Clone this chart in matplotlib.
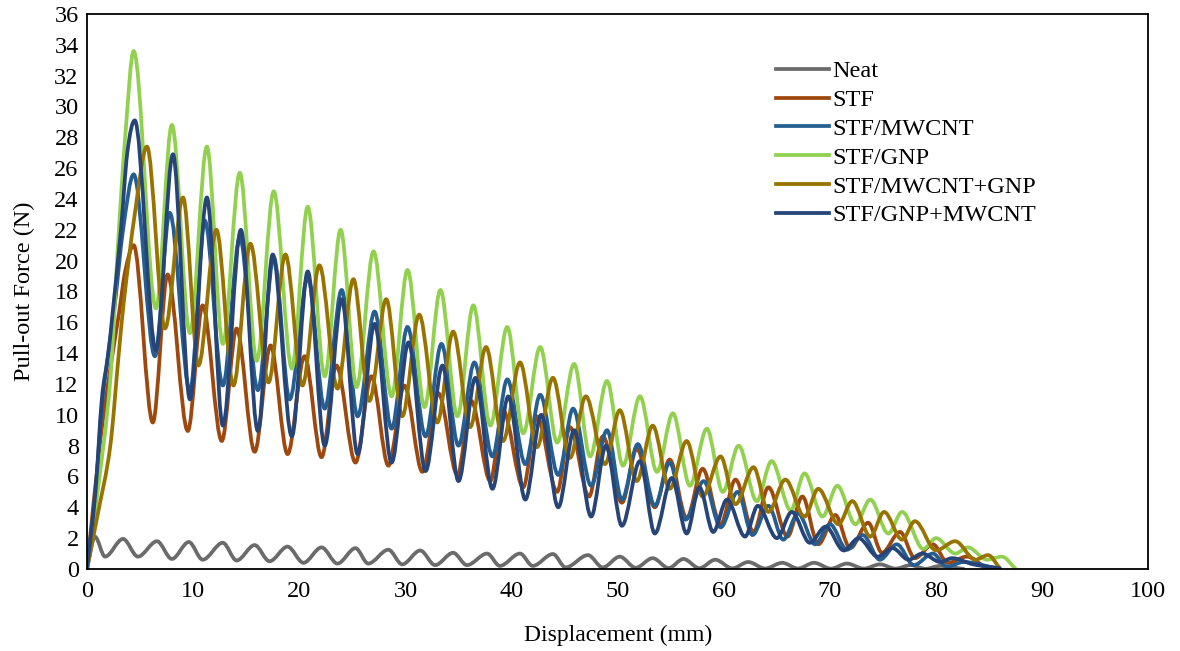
import numpy as np
import matplotlib
matplotlib.use("Agg")
import matplotlib.pyplot as plt
from matplotlib.path import Path
from matplotlib.patches import PathPatch

plt.rcParams['font.family'] = ['Liberation Serif', 'DejaVu Serif']

neat = [(0, 0), (0.75, 2.1), (1.7, 0.8), (3.4, 1.95), (4.8, 0.8), (6.6, 1.8), (8.0, 0.65),
        (9.6, 1.75), (10.9, 0.6), (12.8, 1.7), (14.1, 0.55), (15.8, 1.55), (17.2, 0.5),
        (18.9, 1.45), (20.4, 0.4), (22.1, 1.4), (23.6, 0.35), (25.3, 1.35), (26.5, 0.35),
        (28.4, 1.25), (29.7, 0.3), (31.4, 1.2), (32.8, 0.25), (34.5, 1.05), (35.8, 0.25),
        (37.7, 1.0), (38.9, 0.2), (40.8, 1.0), (42.0, 0.2), (43.9, 0.97), (45.1, 0.1),
        (47.2, 0.9), (48.6, 0.1), (50.2, 0.8), (51.7, 0.08), (53.3, 0.7), (54.8, 0.06),
        (56.2, 0.65), (57.7, 0.05), (59.2, 0.6), (60.8, 0.04), (62.3, 0.45), (63.9, 0.03),
        (65.5, 0.4), (67.0, 0.03), (68.5, 0.4), (70.1, 0.02), (71.6, 0.35), (73.2, 0.02),
        (74.7, 0.3), (76.2, 0.02), (77.6, 0.25), (79.0, 0.01), (80.4, 0.2), (82.6, 0.0)]

stf = [(0, 0), (1.2, 8), (2.2, 13), (3.0, 16.5), (3.6, 19.3), (4.4, 21.0), (6.2, 9.5),
       (7.6, 19.1), (9.5, 8.95), (10.9, 17.1), (12.7, 8.3), (14.1, 15.6), (15.8, 7.6),
       (17.3, 14.5), (18.9, 7.45), (20.5, 13.8), (22.1, 7.25), (23.5, 13.2), (25.3, 6.9),
       (26.8, 12.5), (28.4, 6.7), (29.9, 11.9), (31.6, 6.3), (33.1, 11.4), (34.9, 6.1),
       (36.2, 10.9), (38.0, 5.7), (39.2, 10.3), (41.1, 5.3), (42.4, 9.9), (44.3, 5.0),
       (45.5, 9.2), (47.3, 4.7), (48.6, 8.6), (50.4, 4.3), (51.8, 7.8), (53.5, 4.0),
       (54.9, 7.1), (56.5, 3.3), (58.0, 6.5), (59.7, 2.9), (61.1, 5.8), (62.8, 2.4),
       (64.2, 5.3), (66.0, 2.1), (67.4, 4.7), (68.9, 1.6), (70.5, 3.5), (71.9, 1.35),
       (73.6, 3.0), (74.9, 1.05), (76.6, 2.4), (78.0, 0.7), (79.7, 1.6), (81.1, 0.4),
       (82.9, 0.8), (84.8, 0.0)]

stf_mwcnt = [(0, 0), (0.8, 5), (1.4, 10.5), (2.0, 14), (2.6, 17), (3.4, 22), (4.4, 25.6),
             (6.4, 13.8), (7.8, 23.1), (9.7, 11.5), (11.1, 22.6), (12.8, 11.9), (14.4, 21.5),
             (16.1, 11.6), (17.6, 20.2), (19.1, 11.0), (20.8, 18.9), (22.4, 10.4), (24.0, 18.1),
             (25.5, 9.9), (27.1, 16.7), (28.7, 9.1), (30.2, 15.7), (31.9, 8.6), (33.4, 14.6),
             (35.0, 8.0), (36.5, 13.4), (38.2, 7.3), (39.6, 12.3), (41.3, 6.8), (42.7, 11.3),
             (44.4, 6.1), (45.8, 10.4), (47.5, 5.4), (49.0, 9.0), (50.4, 4.5), (51.9, 8.1),
             (53.5, 4.1), (54.9, 6.9), (56.4, 3.2), (58.1, 5.7), (59.7, 2.7), (61.3, 5.0),
             (62.7, 2.2), (64.2, 4.1), (65.6, 1.9), (67.0, 3.6), (68.6, 1.6), (70.0, 2.9),
             (71.6, 1.25), (73.1, 2.2), (74.7, 0.6), (76.3, 1.6), (77.9, 0.25), (79.7, 1.0),
             (81.0, 0.15), (82.6, 0.45), (85.9, 0.0)]

stf_gnp = [(0, 0), (1.0, 5), (2.2, 12.3), (2.9, 20.8), (3.6, 28), (4.4, 33.6), (6.5, 16.9),
           (8.0, 28.8), (9.7, 15.3), (11.3, 27.4), (12.8, 14.6), (14.4, 25.7), (16.0, 13.5),
           (17.6, 24.5), (19.3, 13.0), (20.8, 23.5), (22.4, 12.5), (23.9, 22.0), (25.4, 11.8),
           (27.0, 20.6), (28.7, 11.2), (30.2, 19.4), (31.8, 10.5), (33.3, 18.1), (34.9, 9.9),
           (36.4, 17.1), (38.0, 9.3), (39.6, 15.7), (41.1, 8.8), (42.7, 14.4), (44.3, 8.2),
           (45.9, 13.3), (47.4, 7.3), (49.0, 12.2), (50.5, 6.7), (52.1, 11.2), (53.7, 6.3),
           (55.2, 10.1), (56.8, 5.4), (58.4, 9.1), (59.9, 5.0), (61.4, 8.0), (63.1, 4.4),
           (64.5, 7.0), (66.3, 3.8), (67.6, 6.2), (69.3, 3.4), (70.7, 5.4), (72.4, 2.9),
           (73.8, 4.5), (75.5, 2.3), (76.8, 3.7), (78.8, 1.3), (80.0, 2.0), (81.8, 1.0),
           (83.0, 1.4), (84.8, 0.6), (86.2, 0.8), (87.5, 0.0)]

stf_mwcnt_gnp = [(0, 0), (1.0, 3.5), (2.2, 8), (3.0, 14), (3.5, 17.5), (4.5, 23), (5.65, 27.4),
                 (7.35, 15.6), (9.05, 24.1), (10.5, 13.2), (12.2, 22.0), (13.8, 11.9),
                 (15.4, 21.1), (17.1, 12.1), (18.7, 20.4), (20.3, 11.9), (21.9, 19.7),
                 (23.6, 11.7), (25.1, 18.8), (26.6, 10.9), (28.2, 17.5), (29.7, 9.9),
                 (31.3, 16.5), (33.0, 9.5), (34.5, 15.4), (36.1, 9.2), (37.6, 14.4),
                 (39.2, 8.3), (40.8, 13.4), (42.4, 7.9), (43.9, 12.4), (45.5, 7.2),
                 (47.0, 11.2), (48.8, 6.8), (50.2, 10.3), (51.8, 5.7), (53.3, 9.3),
                 (54.9, 5.2), (56.5, 8.3), (58.0, 4.7), (59.7, 7.3), (61.1, 4.2), (62.8, 6.6),
                 (64.2, 3.7), (65.8, 5.8), (67.6, 3.4), (68.9, 5.2), (70.8, 2.9), (72.1, 4.4),
                 (73.8, 2.1), (75.1, 3.7), (76.8, 1.9), (78.0, 3.1), (80.0, 1.2), (81.8, 1.8),
                 (83.7, 0.6), (84.9, 0.9), (86.0, 0.05)]

stf_gnp_mwcnt = [(0, 0), (0.8, 5), (1.4, 11), (2.0, 13.9), (2.4, 16.5), (3.2, 22), (3.8, 27),
                 (4.5, 29.1), (6.5, 14.2), (8.1, 26.9), (9.7, 11.0), (11.3, 24.1), (12.8, 9.3),
                 (14.5, 22.0), (16.1, 8.95), (17.5, 20.4), (19.3, 8.6), (20.8, 19.3),
                 (22.4, 8.0), (24.0, 17.5), (25.5, 7.45), (27.1, 15.9), (28.7, 6.9),
                 (30.3, 14.7), (31.9, 6.35), (33.5, 13.2), (35.0, 5.7), (36.6, 12.4),
                 (38.2, 5.2), (39.7, 11.2), (41.3, 4.5), (42.8, 10.0), (44.4, 4.0), (45.9, 9.0),
                 (47.5, 3.4), (48.9, 8.0), (50.4, 2.8), (52.1, 7.0), (53.5, 2.3), (55.1, 5.9),
                 (56.5, 2.3), (57.7, 5.3), (59.0, 2.4), (60.3, 4.5), (62.0, 2.1), (63.2, 4.1),
                 (65.0, 2.0), (66.4, 3.7), (68.1, 1.7), (69.6, 2.75), (71.3, 1.2), (72.7, 2.0),
                 (74.5, 0.8), (75.9, 1.35), (77.4, 0.6), (78.7, 1.0), (80.4, 0.45), (81.5, 0.7),
                 (83.5, 0.3), (86.0, 0.05)]

labels = ["Neat", "STF", "STF/MWCNT", "STF/GNP", "STF/MWCNT+GNP", "STF/GNP+MWCNT"]
series = [neat, stf, stf_mwcnt, stf_gnp, stf_mwcnt_gnp, stf_gnp_mwcnt]
colors = ["#6b6b6b", "#9e480e", "#255e91", "#92d050", "#997300", "#264478"]


def smooth_path(pts):
    # excel-style smoothed line: cubic bezier through the points,
    # flat tangent at every peak / valley
    x = np.array([p[0] for p in pts], float)
    y = np.array([p[1] for p in pts], float)
    n = len(x)
    m = np.zeros(n)
    for i in range(n):
        if i == 0:
            m[i] = (y[1] - y[0]) / (x[1] - x[0])
        elif i == n - 1:
            m[i] = (y[-1] - y[-2]) / (x[-1] - x[-2])
        elif (y[i] - y[i - 1]) * (y[i + 1] - y[i]) <= 0:
            m[i] = 0
        else:
            m[i] = (y[i + 1] - y[i - 1]) / (x[i + 1] - x[i - 1])
    verts = [(x[0], y[0])]
    codes = [Path.MOVETO]
    for i in range(n - 1):
        h = (x[i + 1] - x[i]) / 3
        verts += [(x[i] + h, y[i] + m[i] * h), (x[i + 1] - h, y[i + 1] - m[i + 1] * h),
                  (x[i + 1], y[i + 1])]
        codes += [Path.CURVE4] * 3
    return Path(verts, codes)


fig = plt.figure(figsize=(11.8, 6.51), dpi=100)
ax = fig.add_axes([0.0737, 0.126, 0.8995, 0.8525])

for pts, lab, c in zip(series, labels, colors):
    ax.add_patch(PathPatch(smooth_path(pts), fill=False, edgecolor=c, lw=2.7,
                           capstyle='round', joinstyle='round'))
    ax.plot([], [], color=c, lw=2.7, label=lab)

ax.set_xlim(0, 100)
ax.set_ylim(0, 36)
ax.set_xticks(np.arange(0, 101, 10))
ax.set_yticks(np.arange(0, 37, 2))
ax.tick_params(length=0, labelsize=17.5, pad=6)
ax.tick_params(axis='x', pad=9)
for s in ax.spines.values():
    s.set_color('black')
    s.set_linewidth(1.3)

ax.set_xlabel("Displacement (mm)", fontsize=17, labelpad=16)
ax.set_ylabel("Pull-out Force (N)", fontsize=17.5, labelpad=14)

ax.legend(loc='upper left', bbox_to_anchor=(0.64, 0.934), frameon=False, fontsize=17.5,
          handlelength=2.2, handletextpad=0.1, labelspacing=0.28, borderaxespad=0)

fig.savefig("out.png", dpi=100)
